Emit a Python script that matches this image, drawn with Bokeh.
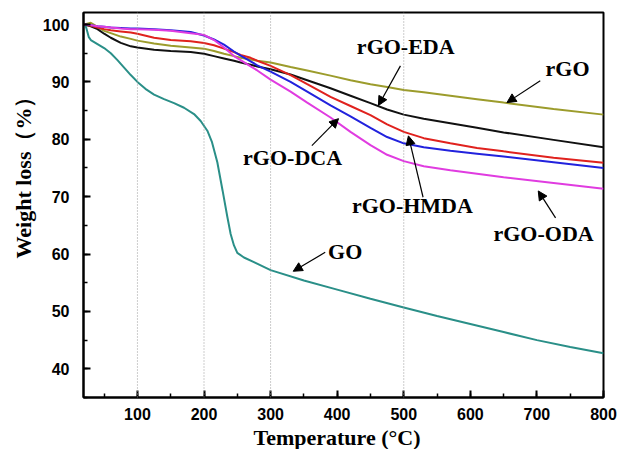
from bokeh.plotting import figure
from bokeh.models import (Span, Label, Arrow, NormalHead, SingleIntervalTicker, Range1d, Title)
from bokeh.embed import file_html
from bokeh.resources import INLINE

# ---------------- data ----------------
temp = [20, 30, 40, 50, 60, 75, 90, 100, 125, 150, 180, 200, 215, 230, 245, 255, 270, 280,
        300, 330, 355, 390, 420, 450, 475, 500, 530, 570, 610, 650, 725, 800]

rgo = [100, 100.3, 99.6, 98.9, 98.5, 97.9, 97.5, 97.2, 96.7, 96.3, 96.0, 95.8, 95.4, 94.9, 94.5, 94.2, 93.9, 93.7,
       93.4, 92.6, 92.0, 91.1, 90.3, 89.6, 89.1, 88.6, 88.2, 87.6, 87.0, 86.4, 85.3, 84.3]
rgo_eda = [100, 99.7, 99.2, 98.4, 97.7, 96.8, 96.2, 96.0, 95.6, 95.4, 95.2, 94.9, 94.5, 94.1, 93.7, 93.4, 93.0, 92.7,
           92.2, 91.3, 90.3, 88.9, 87.6, 86.3, 85.2, 84.3, 83.6, 82.8, 82.0, 81.2, 79.9, 78.6]
rgo_hmda = [100, 99.8, 99.5, 99.2, 99.0, 98.8, 98.6, 98.4, 97.7, 97.3, 97.1, 96.8, 96.4, 95.8, 95.2, 94.7, 94.2, 93.7,
            92.8, 91.2, 89.6, 87.4, 85.8, 84.2, 82.6, 81.3, 80.2, 79.3, 78.5, 77.9, 76.8, 75.9]
rgo_dca = [100, 99.9, 99.7, 99.6, 99.5, 99.4, 99.3, 99.3, 99.2, 99.0, 98.7, 98.1, 97.4, 96.5, 95.3, 94.6, 93.6, 92.9,
           91.8, 90.0, 88.3, 85.9, 84.0, 82.0, 80.4, 79.3, 78.6, 78.0, 77.5, 77.0, 76.0, 75.0]
rgo_oda = [100, 99.9, 99.7, 99.6, 99.5, 99.3, 99.2, 99.2, 99.1, 98.9, 98.5, 98.2, 97.3, 96.0, 94.5, 93.8, 92.7, 92.0,
           90.4, 88.3, 86.4, 83.8, 81.3, 79.0, 77.3, 76.2, 75.3, 74.6, 74.0, 73.4, 72.4, 71.4]

temp_go = [20, 23, 27, 30, 40, 50, 60, 70, 80, 90, 100, 112, 125, 140, 155, 170, 185, 195, 205, 212, 220,
           228, 235, 240, 245, 250, 260, 275, 300, 350, 400, 450, 500, 550, 600, 650, 700, 750, 800]
go = [100, 99.5, 97.8, 97.3, 96.6, 95.9, 95.0, 93.8, 92.5, 91.2, 90.0, 88.8, 87.8, 87.0, 86.3, 85.5, 84.4, 83.2, 81.5, 79.5, 76.0,
      71.0, 66.5, 63.5, 61.5, 60.2, 59.4, 58.6, 57.2, 55.4, 53.8, 52.2, 50.7, 49.2, 47.8, 46.4, 45.0, 43.8, 42.7]

x_ticks_interval = 100
y_ticks_interval = 10
guide_temps = [100, 200, 300, 500]

x_title = "Temperature (°C)"
y_title = "Weight loss（%）"

# label text, label anchor (T, W), arrow start (T, W), arrow end (T, W)
labels = ["rGO-EDA", "rGO", "rGO-DCA", "rGO-HMDA", "rGO-ODA", "GO"]
label_pos = [(503, 96.2), (746, 92.4), (333, 76.8), (513, 68.4), (710, 63.6), (412, 60.4)]
arrow_from = [(495, 92.8), (705, 90.2), (362, 78.9), (529, 69.9), (728, 66.3), (382, 60.3)]
arrow_to = [(462, 85.9), (655, 86.4), (402, 83.6), (507, 80.6), (702, 71.0), (334, 57.0)]

# ---------------- figure ----------------
X0, X1, Y0, Y1 = 19, 800, 35, 102.1
p = figure(width=622, height=449, output_backend="svg", toolbar_location=None,
           x_range=Range1d(X0, X1), y_range=Range1d(Y0, Y1),
           min_border_left=83, min_border_right=19, min_border_top=12, min_border_bottom=52)
p.background_fill_color = "white"
p.border_fill_color = "white"
p.outline_line_color = "black"
p.outline_line_width = 2
p.xgrid.visible = False
p.ygrid.visible = False

for t in guide_temps:
    p.add_layout(Span(location=t, dimension="height", line_color="#9a9a9a",
                      line_dash="1 2", line_width=1))

p.line(temp_go, go, line_color="#2a8f88", line_width=2)
p.line(temp, rgo, line_color="#9c9c2c", line_width=2)
p.line(temp, rgo_eda, line_color="#111111", line_width=2)
p.line(temp, rgo_hmda, line_color="#e0221e", line_width=2)
p.line(temp, rgo_dca, line_color="#2222dd", line_width=2)
p.line(temp, rgo_oda, line_color="#e03ce0", line_width=2)

for txt, (lx, ly), (ax, ay), (bx, by) in zip(labels, label_pos, arrow_from, arrow_to):
    p.add_layout(Label(x=lx, y=ly, text=txt, text_align="center", text_baseline="middle",
                       text_font="Liberation Serif", text_font_style="bold",
                       text_font_size="22px", text_color="black"))
    p.add_layout(Arrow(x_start=ax, y_start=ay, x_end=bx, y_end=by, line_width=1.2,
                       line_color="black",
                       end=NormalHead(size=9, fill_color="black", line_color="black")))

for ax in (p.xaxis[0], p.yaxis[0]):
    ax.axis_line_width = 2
    ax.major_tick_line_width = 2
    ax.minor_tick_line_width = 1.5
    ax.major_tick_in = 7
    ax.major_tick_out = 0
    ax.minor_tick_in = 4
    ax.minor_tick_out = 0
    ax.major_label_text_font = "Liberation Sans"
    ax.major_label_text_font_style = "bold"
    ax.major_label_text_font_size = "16px"
    ax.major_label_text_color = "black"

p.xaxis[0].major_label_standoff = 10
p.yaxis[0].major_label_standoff = 14
p.xaxis[0].ticker = SingleIntervalTicker(interval=x_ticks_interval, num_minor_ticks=2)
p.yaxis[0].ticker = SingleIntervalTicker(interval=y_ticks_interval, num_minor_ticks=2)

# axis titles as side titles so they can be shifted along the axis
p.add_layout(Title(text=x_title, align="left", offset=170, standoff=0,
                   text_font="Liberation Serif", text_font_style="bold",
                   text_font_size="22px", text_color="black"), "below")
p.add_layout(Title(text=y_title, align="left", offset=139, standoff=8,
                   text_font="Liberation Serif", text_font_style="bold",
                   text_font_size="22px", text_color="black"), "left")

open("out.html", "w").write(file_html(p, INLINE))
